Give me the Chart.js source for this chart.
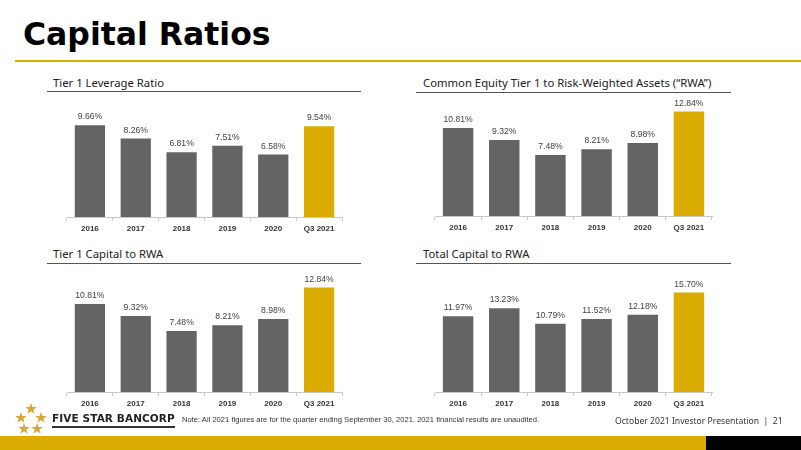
<!DOCTYPE html>
<html lang="en">
<head>
<meta charset="UTF-8">
<title>Capital Ratios</title>
<script src="https://cdn.jsdelivr.net/npm/chart.js"></script>
<style>
  html, body { margin: 0; padding: 0; background: #fff; }
  body { width: 801px; height: 450px; position: relative; overflow: hidden; font-family: "Noto Sans", sans-serif; }
  .abs { position: absolute; white-space: nowrap; }
  .title { left: 23px; top: 16px; font: bold 31.5px "DejaVu Sans", sans-serif; color: #000; }
  .rule { position: absolute; height: 2px; background: #D9AD00; }
  .ptitle { font-size: 11.3px; color: #222; line-height: 13px; }
  .pline { position: absolute; height: 1px; background: #555; }
  .chart { position: absolute; }
  .brand { left: 52px; top: 412px; font: bold 10.5px "DejaVu Sans", sans-serif; letter-spacing: 0.1px; color: #222; }
  .brandline { position: absolute; left: 52px; top: 426px; width: 123px; height: 2px; background: #333; }
  .note { left: 182px; top: 415px; font: 7.6px "Liberation Sans", sans-serif; color: #333; }
  .pres { left: 615px; top: 415px; font: 8.6px "Noto Sans", sans-serif; color: #333; }
</style>
</head>
<body>

<div class="abs title">Capital Ratios</div>
<div class="rule" style="left:15px; top:60px; width:786px;"></div>

<div class="abs ptitle" style="left:53px; top:76px;">Tier 1 Leverage Ratio</div>
<div class="pline" style="left:47px; top:91px; width:314px;"></div>
<div class="abs ptitle" style="left:423px; top:76px;">Common Equity Tier 1 to Risk-Weighted Assets (“RWA”)</div>
<div class="pline" style="left:416px; top:92px; width:315px;"></div>
<div class="abs ptitle" style="left:53px; top:247px;">Tier 1 Capital to RWA</div>
<div class="pline" style="left:47px; top:263px; width:314px;"></div>
<div class="abs ptitle" style="left:423px; top:247px;">Total Capital to RWA</div>
<div class="pline" style="left:416px; top:263px; width:315px;"></div>

<canvas id="c1" class="chart" style="left:60px; top:95px;" width="290" height="145"></canvas>
<canvas id="c2" class="chart" style="left:428px; top:94px;" width="292" height="145"></canvas>
<canvas id="c3" class="chart" style="left:60px; top:270px;" width="290" height="145"></canvas>
<canvas id="c4" class="chart" style="left:428px; top:270px;" width="292" height="145"></canvas>

<svg class="abs" style="left:10px; top:400px;" width="42" height="40" viewBox="0 0 42 40">
  <g fill="#D4A935">
    <polygon id="st" points="0,-6 1.4,-1.9 5.7,-1.9 2.3,0.7 3.6,4.8 0,2.3 -3.6,4.8 -2.3,0.7 -5.7,-1.9 -1.4,-1.9" transform="translate(21,9)"/>
    <use href="#st" transform="translate(-10,9)"/>
    <use href="#st" transform="translate(10,9)"/>
    <use href="#st" transform="translate(-7,20)"/>
    <use href="#st" transform="translate(6,20)"/>
  </g>
</svg>
<div class="abs brand">FIVE STAR BANCORP</div>
<div class="brandline"></div>
<div class="abs note">Note: All 2021 figures are for the quarter ending September 30, 2021. 2021 financial results are unaudited.</div>
<div class="abs pres">October 2021 Investor Presentation &nbsp;|&nbsp; 21</div>
<div class="abs" style="left:0; top:436px; width:706px; height:14px; background:#DBAC00;"></div>
<div class="abs" style="left:706px; top:436px; width:95px; height:14px; background:#000;"></div>

<script>
const categories = ['2016', '2017', '2018', '2019', '2020', 'Q3 2021'];
const leverageRatio = [9.66, 8.26, 6.81, 7.51, 6.58, 9.54];
const cet1Ratio = [10.81, 9.32, 7.48, 8.21, 8.98, 12.84];
const tier1Ratio = [10.81, 9.32, 7.48, 8.21, 8.98, 12.84];
const totalCapRatio = [11.97, 13.23, 10.79, 11.52, 12.18, 15.70];
const axisMax = [12, 14, 14, 18];

const GRAY = '#646464';
const GOLD = '#DBAC00';

const valueLabels = {
  id: 'valueLabels',
  afterDatasetsDraw(chart) {
    const ctx = chart.ctx;
    const meta = chart.getDatasetMeta(0);
    const data = chart.data.datasets[0].data;
    ctx.save();
    ctx.font = '8.6px "Liberation Sans", sans-serif';
    ctx.fillStyle = '#404040';
    ctx.textAlign = 'center';
    ctx.textBaseline = 'bottom';
    meta.data.forEach((bar, i) => {
      ctx.fillText(data[i].toFixed(2) + '%', bar.x, bar.y - 4);
    });
    ctx.restore();
  }
};

function makeChart(id, values, max) {
  const colors = values.map((v, i) => i === values.length - 1 ? GOLD : GRAY);
  new Chart(document.getElementById(id), {
    type: 'bar',
    data: {
      labels: categories,
      datasets: [{
        data: values,
        backgroundColor: colors,
        borderWidth: 0,
        categoryPercentage: 0.66,
        barPercentage: 1
      }]
    },
    options: {
      responsive: false,
      animation: false,
      layout: { padding: { top: 8, left: 7, right: 8, bottom: 0 } },
      plugins: { legend: { display: false }, tooltip: { enabled: false } },
      scales: {
        x: {
          grid: { display: true, drawOnChartArea: false, color: '#c8c8c8', tickLength: 4, offset: true },
          border: { color: '#c8c8c8' },
          ticks: { color: '#333', font: { family: 'Liberation Sans', size: 8, weight: 'bold' }, padding: 3 },
          afterFit(scale) { scale.height = 23; }
        },
        y: { display: false, min: 0, max: max }
      }
    },
    plugins: [valueLabels]
  });
}

makeChart('c1', leverageRatio, axisMax[0]);
makeChart('c2', cet1Ratio, axisMax[1]);
makeChart('c3', tier1Ratio, axisMax[2]);
makeChart('c4', totalCapRatio, axisMax[3]);
</script>
</body>
</html>
